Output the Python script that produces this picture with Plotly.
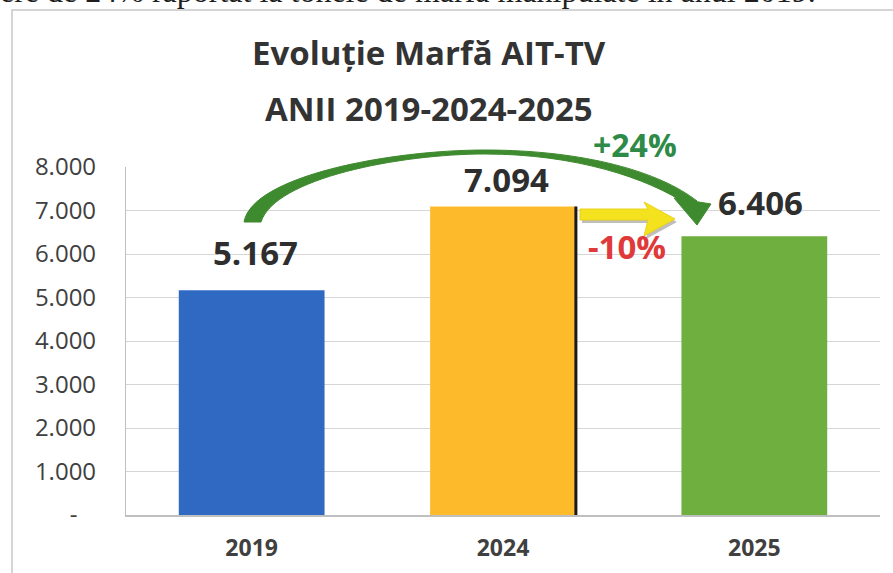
import plotly.graph_objects as go

# ---- data ----
years = ["2019", "2024", "2025"]
tonnes = [5167, 7094, 6406]
value_labels = ["5.167", "7.094", "6.406"]
bar_colors = ["#2F69C2", "#FDBB2C", "#6EAF3F"]
tick_vals = [0, 1000, 2000, 3000, 4000, 5000, 6000, 7000, 8000]
tick_text = ["-\u00a0\u00a0\u00a0", "1.000", "2.000", "3.000", "4.000", "5.000", "6.000", "7.000", "8.000"]
title_line1 = "Evoluție Marfă AIT-TV"
title_line2 = "ANII 2019-2024-2025"
growth_total = "+24%"
growth_last = "-10%"
top_text = "ere de 24% raportat la tonele de marfa manipulate in anul 2019."

# ---- layout geometry ----
FW, FH = 893, 573
OFF = 0  # body margin removed by the post script below
# plot area in screen pixels: x 126..880, y 167..515
SL, SR, ST, SB = 126, 880, 167, 515
L = SL - OFF
T = ST - OFF
R = FW - (SR - OFF)
B = FH - (SB - OFF)
PW = SR - SL
PH = SB - ST
BARGAP = 0.42
FONT = "Open Sans"


def px(x):
    return (x - SL) / PW


def py(y):
    return (SB - y) / PH


def path(points_cmds):
    out = []
    for cmd, pts in points_cmds:
        if cmd == "L":
            for x, y in pts:
                out.append(f"L{px(x):.5f},{py(y):.5f}")
        else:
            coords = " ".join(f"{px(x):.5f},{py(y):.5f}" for x, y in pts)
            out.append(f"{cmd}{coords}")
    return " ".join(out) + " Z"


fig = go.Figure()
fig.add_trace(go.Bar(
    x=years, y=tonnes,
    marker=dict(color=bar_colors, line=dict(width=0)),
    hoverinfo="x+y",
))

shapes = []
# chart border (scanned frame)
shapes.append(dict(type="rect", xref="paper", yref="paper",
                   x0=px(12), x1=px(905), y0=py(10), y1=py(590),
                   line=dict(color="#C8C8C8", width=1.5), fillcolor="rgba(0,0,0,0)", layer="below"))

# black edge on the right side of the 2024 bar
half = (1 - BARGAP) / 2
shapes.append(dict(type="line", xref="x", yref="y",
                   x0=1 + half, x1=1 + half, y0=0, y1=tonnes[1],
                   line=dict(color="#1A1A1A", width=3)))

# green curved arrow (tapered shaft)
GREEN = "#3E8A2E"
green_shaft = path([
    ("M", [(244, 222)]),
    ("C", [(252, 176), (390, 150), (485, 150)]),
    ("C", [(585, 150), (660, 172), (697, 201)]),
    ("L", [(688, 205)]),
    ("C", [(648, 178), (575, 154), (485, 154)]),
    ("C", [(400, 154), (275, 178), (261, 222)]),
])
shapes.append(dict(type="path", xref="paper", yref="paper", path=green_shaft,
                   fillcolor=GREEN, line=dict(color=GREEN, width=1)))
green_head = path([
    ("M", [(674, 198)]),
    ("L", [(711, 204), (697, 225)]),
])
shapes.append(dict(type="path", xref="paper", yref="paper", path=green_head,
                   fillcolor=GREEN, line=dict(color=GREEN, width=1)))

# yellow straight arrow with soft shadow
yellow_pts = [(580, 209), (648, 209), (644, 202), (675, 219), (644, 236), (648, 220), (580, 220)]
shadow_pts = [(x + 2, y + 3) for x, y in yellow_pts]
shapes.append(dict(type="path", xref="paper", yref="paper",
                   path=path([("M", [shadow_pts[0]]), ("L", shadow_pts[1:])]),
                   fillcolor="rgba(110,110,110,0.45)", line=dict(width=0)))
shapes.append(dict(type="path", xref="paper", yref="paper",
                   path=path([("M", [yellow_pts[0]]), ("L", yellow_pts[1:])]),
                   fillcolor="#F5E21E", line=dict(color="#E8D21A", width=1)))

annotations = []
# partial line of document text at the very top (cut by the page edge)
annotations.append(dict(xref="paper", yref="paper", x=px(-2), y=py(11),
                        xanchor="left", yanchor="bottom", showarrow=False,
                        text=top_text,
                        font=dict(family="Liberation Serif", size=32, color="#1E1E1E")))
# title
annotations.append(dict(xref="paper", yref="paper", x=px(429), y=py(53),
                        xanchor="center", yanchor="middle", showarrow=False,
                        text=f"<b>{title_line1}</b>",
                        font=dict(family=FONT, size=33, color="#333333")))
annotations.append(dict(xref="paper", yref="paper", x=px(429), y=py(108),
                        xanchor="center", yanchor="middle", showarrow=False,
                        text=f"<b>{title_line2}</b>",
                        font=dict(family=FONT, size=33, color="#333333")))
# value labels (positioned at each bar's category index and value)
label_shift = [(4, 38), (3, 27), (6, 34)]
for i, (v, lab, (dx, dy)) in enumerate(zip(tonnes, value_labels, label_shift)):
    annotations.append(dict(xref="x", yref="y", x=i, y=v, xshift=dx, yshift=dy,
                            xanchor="center", yanchor="middle", showarrow=False,
                            text=f"<b>{lab}</b>",
                            font=dict(family=FONT, size=33, color="#2E2E2E")))
# percentage labels
annotations.append(dict(xref="paper", yref="paper", x=px(635), y=py(144),
                        xanchor="center", yanchor="middle", showarrow=False,
                        text=f"<b>{growth_total}</b>",
                        font=dict(family=FONT, size=32, color="#2E8B47")))
annotations.append(dict(xref="paper", yref="paper", x=px(627), y=py(246),
                        xanchor="center", yanchor="middle", showarrow=False,
                        text=f"<b>{growth_last}</b>",
                        font=dict(family=FONT, size=33, color="#E0393A")))

fig.update_layout(
    width=FW, height=FH,
    margin=dict(l=L, r=R, t=T, b=B, autoexpand=False),
    paper_bgcolor="white", plot_bgcolor="white",
    bargap=BARGAP,
    showlegend=False,
    shapes=shapes,
    annotations=annotations,
    xaxis=dict(
        type="category",
        automargin=False,
        range=[-0.5, len(years) - 0.5],
        showgrid=False,
        showline=True, linecolor="#BFBFBF", linewidth=1.5,
        ticks="",
        tickfont=dict(family=FONT, size=23, color="#404040", weight="bold"),
        ticklabelstandoff=12,
    ),
    yaxis=dict(
        automargin=False,
        range=[0, 8000],
        tickvals=tick_vals, ticktext=tick_text,
        showgrid=True, gridcolor="#D6D6D6", gridwidth=1.2,
        showline=True, linecolor="#BFBFBF", linewidth=1.2,
        zeroline=False,
        ticks="",
        tickfont=dict(family=FONT, size=24, color="#404040"),
        ticklabelstandoff=24,
    ),
)

fig.write_html("out.html",
               config={"displayModeBar": False},
               post_script="document.body.style.margin='0px';document.body.style.overflow='hidden';")
